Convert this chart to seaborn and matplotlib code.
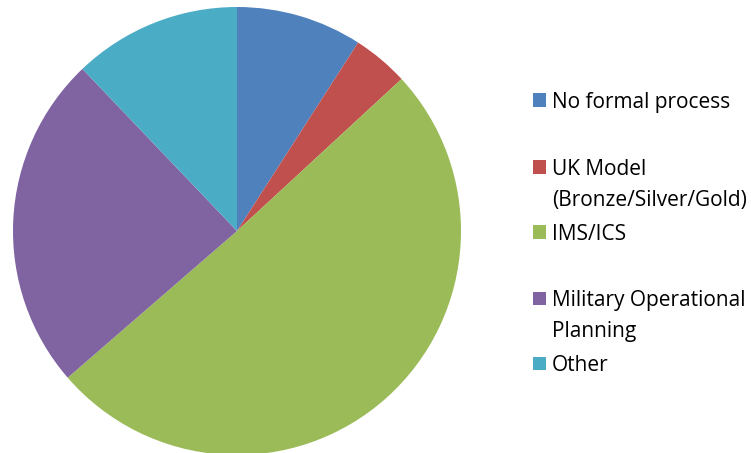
import matplotlib
matplotlib.use("Agg")
import matplotlib.pyplot as plt
import seaborn as sns
from matplotlib.patches import Rectangle

categories = ["No formal process", "UK Model\n(Bronze/Silver/Gold)", "IMS/ICS",
              "Military Operational\nPlanning", "Other"]
values = [9, 4, 50, 24, 12]
colors = ["#4F81BD", "#C0504D", "#9BBB59", "#8064A2", "#4BACC6"]

sns.set_theme(style="white")
plt.rcParams['font.family'] = ['Open Sans', 'DejaVu Sans']
palette = sns.color_palette(colors)

W, H = 751, 453
fig = plt.figure(figsize=(W / 100, H / 100), dpi=100)
cx, cy, r = 237, 231, 224
ax = fig.add_axes([(cx - r) / W, (H - cy - r) / H, 2 * r / W, 2 * r / H])
ax.pie(values, colors=palette, startangle=90, counterclock=False, radius=1,
       wedgeprops=dict(linewidth=0))
ax.set_xlim(-1, 1)
ax.set_ylim(-1, 1)
ax.set_aspect("equal")
ax.axis("off")

# legend (manual, Excel-like layout)
row_y = [100, 167, 232, 298, 363]
line_gap = 31
sq = 13
for label, col, y in zip(categories, palette, row_y):
    fig.patches.append(Rectangle((533 / W, (H - y - sq / 2) / H), sq / W, sq / H,
                                 transform=fig.transFigure, facecolor=col,
                                 edgecolor="none"))
    for i, line in enumerate(label.split("\n")):
        fig.text(552 / W, (H - y - i * line_gap) / H, line, fontsize=15,
                 color="black", va="center_baseline", ha="left")

fig.savefig("out.png", dpi=100)
